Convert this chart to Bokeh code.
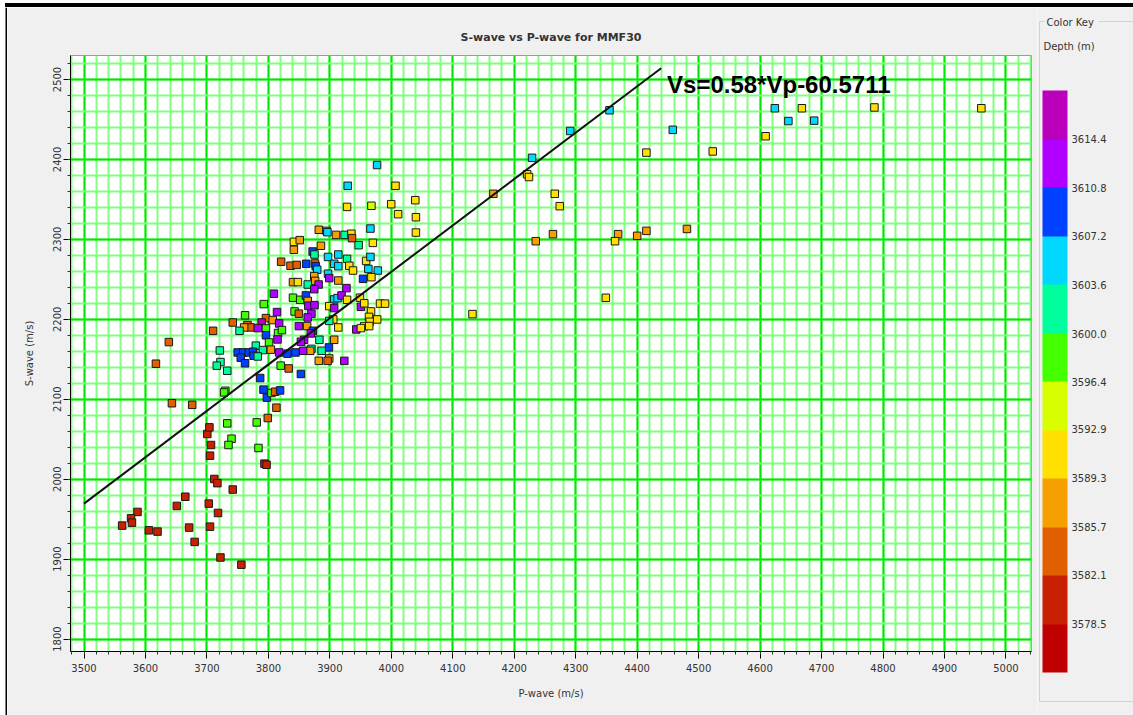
from bokeh.plotting import figure
from bokeh.models import (Range1d, LinearColorMapper, SingleIntervalTicker, Label, ColumnDataSource,
                          ColorBar, FixedTicker, PrintfTickFormatter, Div)
from bokeh.layouts import row, column
from bokeh.embed import file_html
from bokeh.resources import INLINE
from bokeh.core.properties import value

# ---------------- data ----------------
vp = [3700.6, 3740, 3735, 3706.6, 3783.8, 3705, 3793.6, 3797, 3712, 3717, 3742, 3664.8, 3651, 3703, 3718,
      3587, 3576.5, 3578, 3562, 3605.5, 3619.6, 3671, 3705, 3680, 3722, 3756, 3704,
      3809, 3792.5, 3814, 3762, 3796, 3807, 3789, 3742, 3766, 3771, 3760.5, 3817.5, 3782.7, 3796, 3753,
      3710, 3815.7, 3796, 3822, 3814.8, 3801, 3638, 3779.5, 3791, 3804, 3721, 3750, 3759, 3768, 3775,
      3755, 3776, 3782.7, 3762, 3722, 3716, 3817.5, 3733, 3617, 3820, 3833, 3786.6, 3730, 3728, 3792,
      3797.5, 3805, 3811, 3819, 3643, 3676, 3813, 3799, 3781, 3733,
      3820.7, 3836, 3976.8, 3929, 4006.8, 4039, 3928, 3967.6, 3999.8, 4011, 4040, 4040, 3966, 3882,
      3894.6, 3896, 3910, 3924, 3935, 3936, 3970, 3946.8, 3841.4, 3851, 3841.4, 3885.5, 3872, 3875,
      3846, 3861.5, 3875.7, 3897, 3913.7, 3928, 3907, 3913.7, 3931.6, 3937.7, 3877, 3879.4, 3959, 3966,
      3962.6, 3978, 3967.6, 3954, 3897, 3899, 3874.6, 3876, 3840, 3848, 3864, 3881.7, 3874.6, 3913.7, 3927,
      3840, 3851.7, 3861, 3864, 3907, 3912.5, 3919, 3928, 3949, 3865, 3875, 3899, 3907, 3950.5, 3956,
      3981.6, 3989.8, 3842.6, 3849.6, 3870, 3967, 3864, 3963.6, 3977, 3964.7, 3905.5, 3899, 3849.6, 3863,
      3913.7, 3956, 3964, 3943, 3950.5, 3872.4, 3869, 3858, 3852.9, 3883, 3907, 3898.5, 3886.6, 3870,
      3868, 3856.5, 3844, 3831, 3899, 3896.4, 3882, 3923.5, 3852.9,
      4355, 4291, 4229, 4221, 4224, 4166, 4266, 4274, 4458, 4415, 4523, 4235, 4263, 4369, 4364, 4400,
      4415, 4481, 4349, 4132, 4624, 4668, 4786, 4960, 4646, 4688, 4609]

vs = [2056.5, 2050.6, 2042.7, 2042.7, 2039, 2029.4, 2019.4, 2018, 2000.2, 1995, 1987, 1978, 1966.5, 1969.4, 1957.7,
      1959, 1951, 1945.6, 1941.9, 1936, 1934.4, 1939.4, 1940.6, 1921.5, 1902, 1893, 2064.8,
      2232, 2219, 2209, 2205, 2201.5, 2199, 2196, 2196, 2192.7, 2189.8, 2189.8, 2194.8, 2189, 2188.5, 2185.6,
      2185.6, 2182.8, 2180, 2186.5, 2174.8, 2171, 2171.5, 2167, 2161.5, 2162, 2161, 2158.5, 2158.5, 2158.5, 2159.4,
      2152, 2154.4, 2153.5, 2145, 2146.5, 2142, 2158.5, 2135.6, 2144.4, 2142, 2138.5, 2126.5, 2110.6, 2108.5, 2112,
      2102, 2107.8, 2109.4, 2111, 2095, 2093, 2089.4, 2076.5, 2071, 2069.8,
      2272, 2267, 2393, 2367, 2367, 2349, 2340.6, 2342, 2344, 2331.5, 2327.7, 2308.5, 2313.5, 2312,
      2310.6, 2309, 2305.6, 2305.6, 2307, 2301.5, 2295.6, 2292.7, 2296.9, 2299, 2287, 2292, 2284.8, 2281,
      2268, 2269.4, 2269.8, 2278, 2281, 2275.6, 2269.4, 2266.5, 2266.9, 2261, 2266.5, 2262, 2273, 2278,
      2263, 2261, 2252.7, 2250.6, 2257, 2251.5, 2254, 2248, 2246.5, 2246.5, 2243.5, 2243.5, 2237.7, 2248.5, 2239,
      2227, 2224.4, 2229.8, 2223, 2224.8, 2226.5, 2229.8, 2224.4, 2227, 2217, 2217.7, 2216.5, 2214, 2215.6, 2220,
      2219.6, 2219.6, 2209.8, 2207, 2207, 2209.8, 2202.3, 2203, 2199.8, 2196.9, 2199.8, 2198, 2191.5, 2191.5,
      2189.8, 2191.5, 2191.5, 2187.3, 2189, 2185.6, 2182.3, 2174.4, 2171.9, 2174.4, 2174.4, 2164.8, 2160.6, 2163,
      2160.6, 2160.6, 2158.5, 2157, 2151, 2148, 2148, 2148, 2131.6,
      2461.5, 2435.6, 2402, 2381.5, 2378, 2357, 2357, 2341.5, 2437, 2408.5, 2410, 2297.7, 2306.5, 2306.5, 2297.7, 2304.4,
      2310.6, 2313, 2226.9, 2206.5, 2464, 2464, 2465, 2464, 2448, 2448.5, 2429]

depth = [3580.3, 3598.2, 3598.2, 3580.3, 3598.2, 3580.3, 3580.3, 3580.3, 3580.3, 3580.3, 3580.3, 3580.3, 3580.3, 3580.3, 3580.3,
         3580.3, 3580.3, 3580.3, 3580.3, 3580.3, 3580.3, 3580.3, 3580.3, 3580.3, 3580.3, 3580.3, 3580.3,
         3612.6, 3598.2, 3612.6, 3598.2, 3583.9, 3587.5, 3616.2, 3583.9, 3583.9, 3583.9, 3587.5, 3612.6, 3612.6, 3598.2, 3601.8,
         3583.9, 3598.2, 3609.0, 3598.2, 3612.6, 3598.2, 3583.9, 3601.8, 3601.8, 3587.5, 3601.8, 3609.0, 3609.0, 3609.0, 3609.0,
         3609.0, 3609.0, 3601.8, 3609.0, 3601.8, 3601.8, 3612.6, 3601.8, 3583.9, 3598.2, 3583.9, 3609.0, 3598.2, 3598.2, 3609.0,
         3609.0, 3598.2, 3583.9, 3609.0, 3583.9, 3583.9, 3583.9, 3583.9, 3598.2, 3598.2,
         3583.9, 3583.9, 3605.4, 3605.4, 3591.1, 3591.1, 3591.1, 3594.7, 3591.1, 3591.1, 3591.1, 3591.1, 3605.4, 3587.5,
         3601.8, 3605.4, 3587.5, 3601.8, 3591.1, 3583.9, 3591.1, 3601.8, 3591.1, 3587.5, 3587.5, 3587.5, 3609.0, 3601.8,
         3583.9, 3609.0, 3583.9, 3605.4, 3605.4, 3601.8, 3605.4, 3605.4, 3591.1, 3591.1, 3609.0, 3605.4, 3591.1, 3605.4,
         3605.4, 3605.4, 3591.1, 3609.0, 3605.4, 3612.6, 3587.5, 3587.5, 3587.5, 3591.1, 3601.8, 3612.6, 3612.6, 3587.5, 3612.6,
         3598.2, 3598.2, 3609.0, 3587.5, 3605.4, 3605.4, 3612.6, 3591.1, 3591.1, 3612.6, 3612.6, 3591.1, 3612.6, 3612.6, 3591.1,
         3591.1, 3591.1, 3598.2, 3583.9, 3612.6, 3591.1, 3612.6, 3591.1, 3591.1, 3591.1, 3591.1, 3601.8, 3612.6, 3587.5,
         3591.1, 3591.1, 3591.1, 3612.6, 3591.1, 3609.0, 3612.6, 3612.6, 3612.6, 3601.8, 3587.5, 3609.0, 3601.8, 3601.8,
         3587.5, 3612.6, 3609.0, 3609.0, 3587.5, 3583.9, 3587.5, 3612.6, 3609.0,
         3605.4, 3605.4, 3605.4, 3591.1, 3591.1, 3587.5, 3591.1, 3591.1, 3605.4, 3591.1, 3591.1, 3587.5, 3587.5, 3587.5, 3591.1, 3587.5,
         3587.5, 3587.5, 3591.1, 3591.1, 3605.4, 3591.1, 3591.1, 3591.1, 3605.4, 3605.4, 3591.1]

depth_palette = ["#c00000", "#c82000", "#e06000", "#f5a000", "#ffe000", "#d8ff00",
                 "#44ff00", "#00ff9c", "#00d8ff", "#0040ff", "#b000ff", "#bb00bb"]
depth_ticks = [3578.5, 3582.1, 3585.7, 3589.3, 3592.9, 3596.4, 3600.0, 3603.6, 3607.2, 3610.8, 3614.4]
depth_low, depth_high = 3574.9, 3618.0

slope, intercept = 0.58, -60.5711
fit_vp = [3500, 4439]
fit_vs = [slope * v + intercept for v in fit_vp]

FONT = "DejaVu Sans"
BG = "#f0f0f0"
TXT = "#333333"

mapper = LinearColorMapper(palette=depth_palette, low=depth_low, high=depth_high)
src = ColumnDataSource(dict(vp=vp, vs=vs, depth=depth))


def blank(w, h, xr, yr, bg):
    f = figure(width=w, height=h, x_range=Range1d(*xr), y_range=Range1d(*yr),
               x_axis_type=None, y_axis_type=None, min_border=0, frame_align=False,
               output_backend="svg", toolbar_location=None,
               background_fill_color=bg, border_fill_color=bg, outline_line_color=None)
    f.grid.visible = False
    return f


# ---------------- main plot (page x 7..1037, y 7..715) ----------------
p = figure(width=1030, height=708, x_range=Range1d(3478, 5041.6), y_range=Range1d(1784.4, 2530),
           min_border_left=63, min_border_right=6, min_border_top=48, min_border_bottom=64,
           frame_align=False, output_backend="svg", toolbar_location=None,
           background_fill_color="white", border_fill_color=BG, outline_line_color="#9a9a9a")
p.title.text = "S-wave vs P-wave for MMF30"
p.title.align = "center"
p.title.text_font = FONT
p.title.text_font_size = "11px"
p.title.text_font_style = "bold"
p.title.text_color = TXT
p.title.standoff = 24

p.xaxis.ticker = SingleIntervalTicker(interval=100, num_minor_ticks=5)
p.yaxis.ticker = SingleIntervalTicker(interval=100, num_minor_ticks=5)
p.xaxis.axis_label = "P-wave (m/s)"
p.yaxis.axis_label = "S-wave (m/s)"
for ax in (p.xaxis[0], p.yaxis[0]):
    ax.axis_line_color = "black"
    ax.major_tick_line_color = "black"
    ax.minor_tick_line_color = "#333333"
    ax.major_tick_out = 7
    ax.major_tick_in = 0
    ax.minor_tick_out = 3
    ax.minor_tick_in = 0
    ax.major_label_text_font = FONT
    ax.major_label_text_font_size = "10px"
    ax.major_label_text_color = TXT
    ax.axis_label_text_font = FONT
    ax.axis_label_text_font_size = "10px"
    ax.axis_label_text_font_style = "normal"
    ax.axis_label_text_color = TXT
p.yaxis.major_label_orientation = "vertical"
p.yaxis.major_label_standoff = 2
p.yaxis.axis_label_standoff = 16
p.xaxis.major_label_standoff = 5
p.xaxis.axis_label_standoff = 13

p.grid.grid_line_color = "#00e800"
p.grid.grid_line_width = 2
p.grid.minor_grid_line_color = "#80ff80"
p.grid.minor_grid_line_width = 2

p.scatter(x="vp", y="vs", source=src, marker="square", size=7.5,
          fill_color={"field": "depth", "transform": mapper},
          line_color="#1a1a1a", line_width=1)
p.line(fit_vp, fit_vs, line_color="#111111", line_width=2)
p.add_layout(Label(x=4448.6, y=2494, text=f"Vs={slope}*Vp{intercept}",
                   text_font="Liberation Sans", text_font_style="bold", text_font_size="24px",
                   text_color="black", text_baseline="alphabetic"))

# ---------------- colour key panel (page x 1037..1133, y 7..715; pixel coords, y down) ----------------
k = blank(96, 708, (0, 96), (708, 0), BG)
cb = ColorBar(color_mapper=mapper, ticker=FixedTicker(ticks=depth_ticks),
              formatter=PrintfTickFormatter(format="%.1f"),
              width=25, height=582, location=(5, 43), padding=0, margin=0,
              bar_line_color=None, border_line_color=None, background_fill_alpha=0,
              major_tick_line_color=None, minor_tick_line_color=None, label_standoff=4,
              major_label_text_font=FONT, major_label_text_font_size="10px",
              major_label_text_color=TXT)
k.add_layout(cb)
box_col = "#d2d2d2"
k.segment(x0=[2, 2, 2, 61], y0=[14, 694, 14, 14], x1=[2, 100, 7, 100], y1=[694, 694, 14, 14],
          line_color=box_col, line_width=1)
k.text(x=[9, 6], y=[15, 39], text=["Color Key", "Depth (m)"],
       text_font=value(FONT), text_font_size="10px", text_color=TXT, text_baseline="middle")

# ---------------- window frame ----------------
top = Div(text="", width=1133, height=7, margin=0,
          styles={"background": "linear-gradient(to right, #ffffff 0px, #ffffff 5px, transparent 5px), "
                                "linear-gradient(to bottom, #ffffff 0px, #ffffff 3px, #000000 3px, #000000 7px)"})
left = blank(7, 708, (0, 7), (0, 708), "white")
left.quad(left=5, right=7, bottom=0, top=708, fill_color="black", line_color=None)

layout = column(top, row(left, p, k))
open("out.html", "w").write(file_html(layout, INLINE))
